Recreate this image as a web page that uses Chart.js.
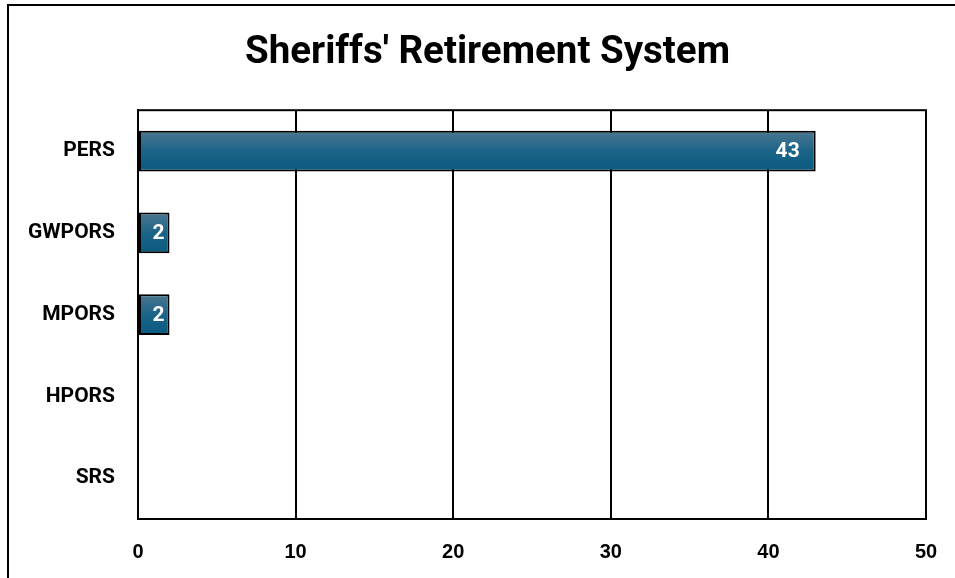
<!DOCTYPE html>
<html>
<head>
<meta charset="utf-8">
<script src="https://cdn.jsdelivr.net/npm/chart.js@4"></script>
<style>
  html, body { margin: 0; padding: 0; background: #fff; }
  #frame { position: absolute; left: 7px; top: 4px; width: 1000px; height: 640px;
           border-left: 2px solid #000; border-top: 2px solid #000; }
  #wrap { position: absolute; left: 0; top: 0; width: 955px; height: 578px; }
</style>
</head>
<body>
<div id="frame"></div>
<div id="wrap"><canvas id="chart" width="955" height="578"></canvas></div>
<script>
// data
const systems = ['PERS', 'GWPORS', 'MPORS', 'HPORS', 'SRS'];
const counts = [43, 2, 2, 0, 0];
const xTicks = [0, 10, 20, 30, 40, 50];

// white value labels inside the end of each bar
const barLabels = {
  id: 'barLabels',
  afterDatasetsDraw(chart) {
    const c = chart.ctx;
    const meta = chart.getDatasetMeta(0);
    c.save();
    c.font = 'bold 21px Roboto';
    c.fillStyle = '#fff';
    c.textAlign = 'right';
    c.textBaseline = 'middle';
    meta.data.forEach((bar, i) => {
      const v = counts[i];
      if (!v) return;
      const txt = String(v);
      const len = bar.x - bar.base;
      const pad = len > 3 * c.measureText(txt).width ? 16 : 5;
      c.fillText(txt, bar.x - pad, bar.y + 1);
    });
    c.restore();
  }
};

function barFill(context) {
  const chart = context.chart;
  const area = chart.chartArea;
  if (!area) return '#0b5a80';
  const y = chart.scales.y;
  const mid = y.getPixelForValue(context.dataIndex);
  const half = (area.bottom - area.top) / systems.length * 0.25;
  const g = chart.ctx.createLinearGradient(0, mid - half, 0, mid + half);
  g.addColorStop(0, '#4d7791');
  g.addColorStop(0.5, '#1b6487');
  g.addColorStop(1, '#0a5a80');
  return g;
}

new Chart(document.getElementById('chart'), {
  type: 'bar',
  data: {
    labels: systems,
    datasets: [{
      data: counts,
      backgroundColor: barFill,
      borderColor: '#000',
      borderWidth: 2,
      borderSkipped: false,
      barPercentage: 0.5,
      categoryPercentage: 1
    }]
  },
  options: {
    indexAxis: 'y',
    responsive: false,
    animation: false,
    layout: { padding: { left: 20, right: 0, top: 0, bottom: 0 } },
    plugins: {
      legend: { display: false },
      tooltip: { enabled: false },
      title: {
        display: true,
        text: "Sheriffs' Retirement System",
        color: '#000',
        font: { family: 'Roboto', size: 38.5, weight: 'bold', lineHeight: 1.2 },
        padding: { top: 30, bottom: 34 }
      }
    },
    scales: {
      x: {
        min: 0,
        max: 50,
        afterBuildTicks(scale) { scale.ticks = xTicks.map(v => ({ value: v })); },
        afterFit(scale) {
          scale.height = 59;
          scale.paddingLeft = 0;
          scale.paddingRight = 29;
        },
        grid: { color: '#000', lineWidth: 2, drawTicks: false },
        border: { display: true, color: '#000', width: 2 },
        ticks: {
          color: '#000',
          padding: 21,
          font: { family: 'Liberation Sans', size: 20, weight: 'bold' }
        }
      },
      y: {
        afterFit(scale) { scale.width = 118; },
        grid: { display: false, drawTicks: false },
        border: { display: true, color: '#000', width: 2 },
        ticks: {
          color: '#000',
          padding: 23,
          font: { family: 'Roboto', size: 21, weight: 'bold' }
        }
      }
    }
  },
  plugins: [barLabels, {
    id: 'plotFrame',
    afterDraw(chart) {
      const a = chart.chartArea;
      const c = chart.ctx;
      c.save();
      c.strokeStyle = '#000';
      c.lineWidth = 2;
      c.strokeRect(a.left, a.top, a.right - a.left, a.bottom - a.top);
      c.restore();
    }
  }]
});
</script>
</body>
</html>
